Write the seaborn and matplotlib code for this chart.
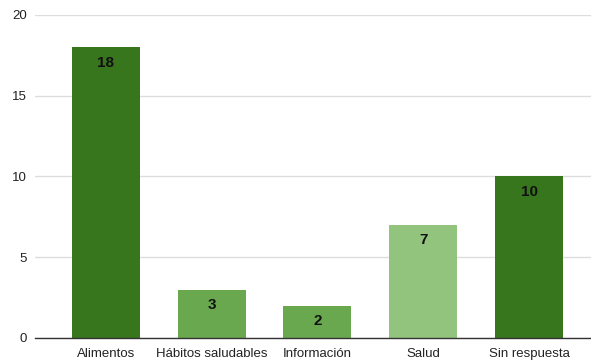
import matplotlib
matplotlib.use("Agg")
import matplotlib.pyplot as plt
import seaborn as sns
import pandas as pd

categories = ["Alimentos", "Hábitos saludables", "Información", "Salud", "Sin respuesta"]
values = [18, 3, 2, 7, 10]
colors = ["#38761d", "#6aa84f", "#6aa84f", "#93c47d", "#38761d"]

sns.set_theme(style="whitegrid")
plt.rcParams['font.family'] = ['Liberation Sans', 'DejaVu Sans']

df = pd.DataFrame({"cat": categories, "val": values})
fig = plt.figure(figsize=(5.91, 3.63), dpi=100)
ax = fig.add_axes([35/591, 1 - 338/363, 556/591, 323/363])
sns.barplot(data=df, x="cat", y="val", hue="cat", palette=dict(zip(categories, colors)),
            width=0.643, legend=False, ax=ax, saturation=1)
for p in ax.patches:
    p.set_edgecolor("none")
ax.set_xlim(-0.671, 4.586)
ax.set_ylim(0, 20)
ax.set_yticks([0, 5, 10, 15, 20])
ax.set_xlabel("")
ax.set_ylabel("")
ax.grid(axis="y", color="#dddddd", linewidth=1)
ax.grid(axis="x", visible=False)
for s in ["top", "right", "left"]:
    ax.spines[s].set_visible(False)
ax.spines["bottom"].set_color("#333333")
ax.spines["bottom"].set_linewidth(1)
ax.tick_params(axis="both", length=0, labelsize=9.5, colors="#222222")
ax.tick_params(axis="x", pad=7.5)
ax.tick_params(axis="y", pad=6)
for c in ax.containers:
    ax.bar_label(c, labels=[str(int(v)) for v in c.datavalues], label_type="edge",
                 padding=-16, fontsize=11, fontweight="bold", color="#111111")
fig.savefig("out.png", dpi=100)
